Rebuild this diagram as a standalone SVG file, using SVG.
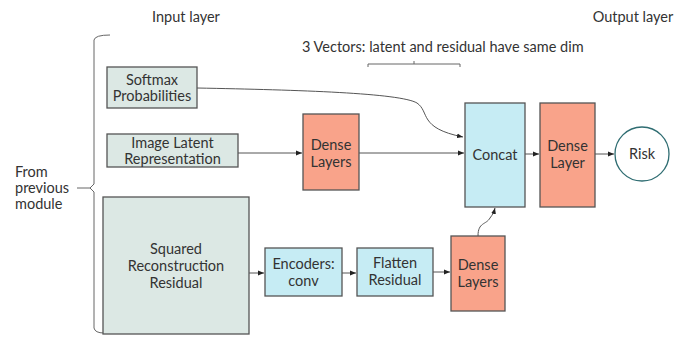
<svg xmlns="http://www.w3.org/2000/svg" width="688" height="341" viewBox="0 0 688 341">
  <defs>
    <marker id="arrow" viewBox="0 0 10 10" refX="10" refY="5" markerWidth="6" markerHeight="6" orient="auto" markerUnits="userSpaceOnUse">
      <path d="M0,1 L10,5 L0,9 z" fill="#222"/>
    </marker>
    <style>
      text { font-family: Lato, "Open Sans", "Liberation Sans", sans-serif; fill: #333; font-size: 14.5px; }
      .lbl { text-anchor: middle; }
      .input { fill: #dce8e4; stroke: #555; stroke-width: 1.3; }
      .blue { fill: #c6ecf4; stroke: #555; stroke-width: 1.3; }
      .dense { fill: #f9a38a; stroke: #555; stroke-width: 1.3; }
      .edge { fill: none; stroke: #555; stroke-width: 1; marker-end: url(#arrow); }
      .brace { fill: none; stroke: #666; stroke-width: 1; }
    </style>
  </defs>
  <rect width="688" height="341" fill="#fff"/>

  <!-- headings and annotations -->
  <text x="186" y="22" class="lbl">Input layer</text>
  <text x="633" y="22" class="lbl">Output layer</text>
  <text x="302" y="52">3 Vectors: latent and residual have same dim</text>
  <text x="15" y="177">From</text>
  <text x="15" y="193">previous</text>
  <text x="15" y="209">module</text>

  <!-- braces -->
  <path class="brace" d="M110,35 Q95,35 94,40 L94,184 L90,188 L94,192 L94,328 Q95,333 104,333"/>
  <path class="brace" d="M77,188 L90,188"/>
  <path class="brace" d="M368,67 L368,64 L460,64 L460,67 M414,64 L414,61"/>

  <!-- connectors -->
  <g id="edges">
    <path class="edge" d="M197,88 C300,90 400,93 417,103 C430,112 418,128 463,137"/>
    <path class="edge" d="M238,153 L302,153"/>
    <path class="edge" d="M359,153 L464,153"/>
    <path class="edge" d="M525,154 L539,154"/>
    <path class="edge" d="M595,154 L614,154"/>
    <path class="edge" d="M249,273 L264,273"/>
    <path class="edge" d="M342,273 L356,273"/>
    <path class="edge" d="M433,272 L450,272"/>
    <path class="edge" d="M478,236 C478,222 486,225 490,218 C493,214 494,212 495,208"/>
  </g>

  <!-- nodes -->
  <g id="softmax">
    <rect class="input" x="107" y="67" width="90" height="41"/>
    <text x="152" y="85" class="lbl">Softmax</text>
    <text x="152" y="101" class="lbl">Probabilities</text>
  </g>
  <g id="image-latent">
    <rect class="input" x="107" y="134" width="131" height="33"/>
    <text x="172.5" y="148" class="lbl">Image Latent</text>
    <text x="172.5" y="164" class="lbl">Representation</text>
  </g>
  <g id="dense-latent">
    <rect class="dense" x="303" y="114" width="56" height="76"/>
    <text x="331" y="150" class="lbl">Dense</text>
    <text x="331" y="167" class="lbl">Layers</text>
  </g>
  <g id="squared-residual">
    <rect class="input" x="103" y="197" width="146" height="137"/>
    <text x="176" y="254" class="lbl">Squared</text>
    <text x="176" y="271" class="lbl">Reconstruction</text>
    <text x="176" y="288" class="lbl">Residual</text>
  </g>
  <g id="encoders">
    <rect class="blue" x="265" y="248" width="77" height="48"/>
    <text x="303.5" y="269" class="lbl">Encoders:</text>
    <text x="303.5" y="286" class="lbl">conv</text>
  </g>
  <g id="flatten">
    <rect class="blue" x="357" y="248" width="76" height="48"/>
    <text x="395" y="268" class="lbl">Flatten</text>
    <text x="395" y="285" class="lbl">Residual</text>
  </g>
  <g id="dense-residual">
    <rect class="dense" x="451" y="236" width="54" height="75"/>
    <text x="478" y="270" class="lbl">Dense</text>
    <text x="478" y="287" class="lbl">Layers</text>
  </g>
  <g id="concat">
    <rect class="blue" x="465" y="103" width="60" height="104"/>
    <text x="495" y="160" class="lbl">Concat</text>
  </g>
  <g id="dense-output">
    <rect class="dense" x="540" y="103" width="55" height="104"/>
    <text x="567.5" y="151" class="lbl">Dense</text>
    <text x="567.5" y="168" class="lbl">Layer</text>
  </g>
  <g id="risk">
    <circle cx="642" cy="154" r="27" fill="#fff" stroke="#2f6d72" stroke-width="1.3"/>
    <text x="642" y="159" class="lbl">Risk</text>
  </g>
</svg>
